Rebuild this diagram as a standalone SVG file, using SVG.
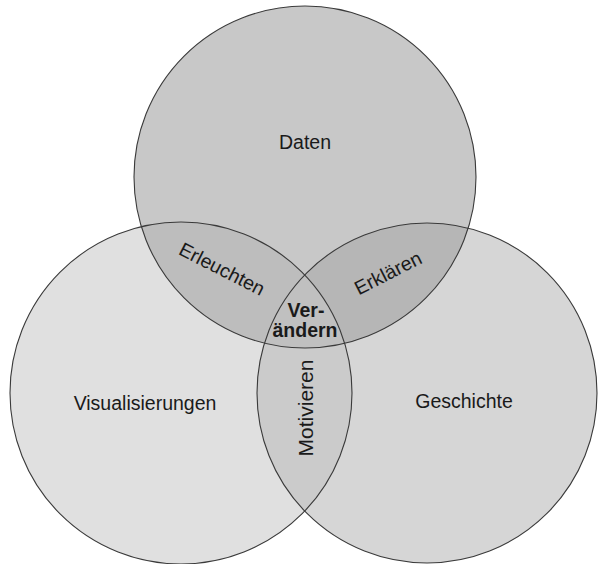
<svg xmlns="http://www.w3.org/2000/svg" width="599" height="564" viewBox="0 0 599 564">
<style>
.lbl{font-family:"Liberation Sans",Arial,sans-serif;font-size:19.5px;fill:#1a1a1a;text-anchor:middle}
.b{font-weight:bold}
.ol{fill:none;stroke:#3a3a3a;stroke-width:1.1}
</style>
<defs>
<clipPath id="cT"><circle cx="305" cy="177" r="171"/></clipPath>
<clipPath id="cL"><circle cx="181" cy="393" r="171"/></clipPath>
<clipPath id="cR"><circle cx="427" cy="393" r="170"/></clipPath>
</defs>
<rect width="599" height="564" fill="#fff"/>
<g id="visualisierungen">
<circle cx="181" cy="393" r="171" fill="#e0e0e0"/>
</g>
<g id="geschichte">
<circle cx="427" cy="393" r="170" fill="#d6d6d6"/>
</g>
<g id="daten">
<circle cx="305" cy="177" r="171" fill="#c8c8c8"/>
</g>
<g id="erleuchten">
<g clip-path="url(#cL)"><circle cx="305" cy="177" r="171" fill="#bdbdbd"/></g>
</g>
<g id="erklaeren">
<g clip-path="url(#cR)"><circle cx="305" cy="177" r="171" fill="#b6b6b6"/></g>
</g>
<g id="motivieren">
<g clip-path="url(#cR)"><circle cx="181" cy="393" r="171" fill="#cbcbcb"/></g>
</g>
<g id="veraendern">
<g clip-path="url(#cR)"><g clip-path="url(#cL)"><circle cx="305" cy="177" r="171" fill="#c0c0c0"/></g></g>
</g>
<g id="outlines">
<circle class="ol" cx="181" cy="393" r="171"/>
<circle class="ol" cx="427" cy="393" r="170"/>
<circle class="ol" cx="305" cy="177" r="171"/>
</g>
<g id="labels">
<text class="lbl" x="305" y="149">Daten</text>
<text class="lbl" x="145" y="410">Visualisierungen</text>
<text class="lbl" x="464" y="408">Geschichte</text>
<text class="lbl" transform="translate(219,275) rotate(27)">Erleuchten</text>
<text class="lbl" transform="translate(391,279) rotate(-27)">Erklären</text>
<text class="lbl b" x="306" y="317">Ver-</text>
<text class="lbl b" x="305" y="337">ändern</text>
<text class="lbl" style="font-size:21px" transform="translate(313,408) rotate(-90)">Motivieren</text>
</g>
</svg>
